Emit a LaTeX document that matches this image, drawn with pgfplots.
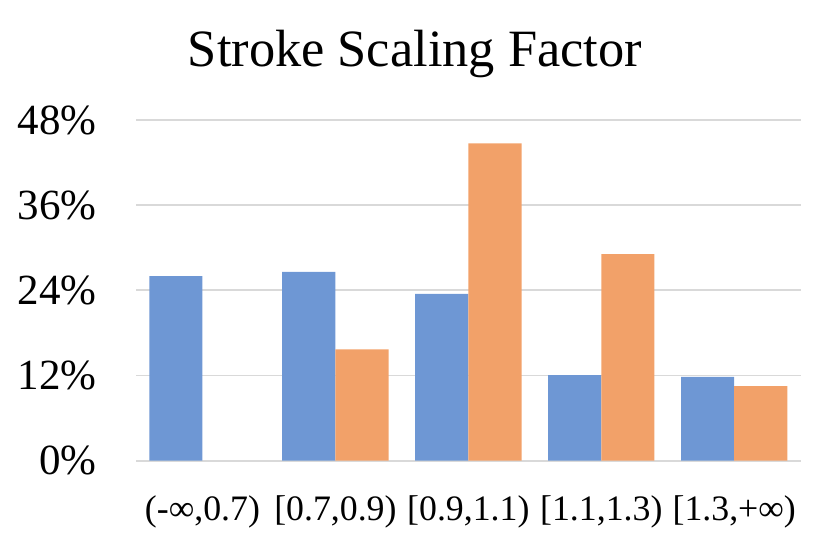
\documentclass[border=0pt]{standalone}
\usepackage{pgfplots}
\pgfplotsset{compat=1.18}
\usepackage{fontspec}
\setmainfont{Liberation Serif}
\usetikzlibrary{calc}
\definecolor{barblue}{HTML}{6E97D4}
\definecolor{barorange}{HTML}{F2A169}
\definecolor{gridgray}{HTML}{D9D9D9}
\begin{document}
\begin{tikzpicture}
\begin{axis}[
  scale only axis,
  width=332.35pt, height=170.35pt,
  ybar=0pt, bar width=26.6pt,
  xmin=-0.5, xmax=4.5,
  ymin=0, ymax=48,
  xtick={0,1,2,3,4},
  xticklabels={{(-∞,0.7)},{[0.7,0.9)},{[0.9,1.1)},{[1.1,1.3)},{[1.3,+∞)}},
  ytick={0,12,24,36,48},
  yticklabels={0\%,12\%,24\%,36\%,48\%},
  axis line style={draw=none},
  major tick length=0pt,
  ymajorgrids,
  grid style={gridgray, line width=0.9pt},
  xticklabel style={font=\fontsize{17.9}{20}\selectfont, anchor=base, inner sep=0pt, yshift=-30.15pt},
  yticklabel style={font=\fontsize{21.5}{24}\selectfont, anchor=east, inner sep=0pt, xshift=-19.5pt},
  clip=false,
]
\addplot[fill=barblue, draw=none] coordinates {(0,26.0) (1,26.6) (2,23.5) (3,12.07) (4,11.8)};
\addplot[fill=barorange, draw=none] coordinates {(1,15.7) (2,44.7) (3,29.1) (4,10.5)};
\coordinate (sw) at (rel axis cs:0,0);
\coordinate (ne) at (rel axis cs:1,1);
\coordinate (nw) at (rel axis cs:0,1);
\end{axis}
\node[anchor=base, inner sep=0pt, font=\fontsize{26.2}{30}\selectfont] at ($(nw)+(139.45pt,26.65pt)$) {Stroke Scaling Factor};
\pgfresetboundingbox
\path ($(sw)+(-68pt,-43.65pt)$) rectangle ($(ne)+(15.15pt,60pt)$);
\end{tikzpicture}
\end{document}
